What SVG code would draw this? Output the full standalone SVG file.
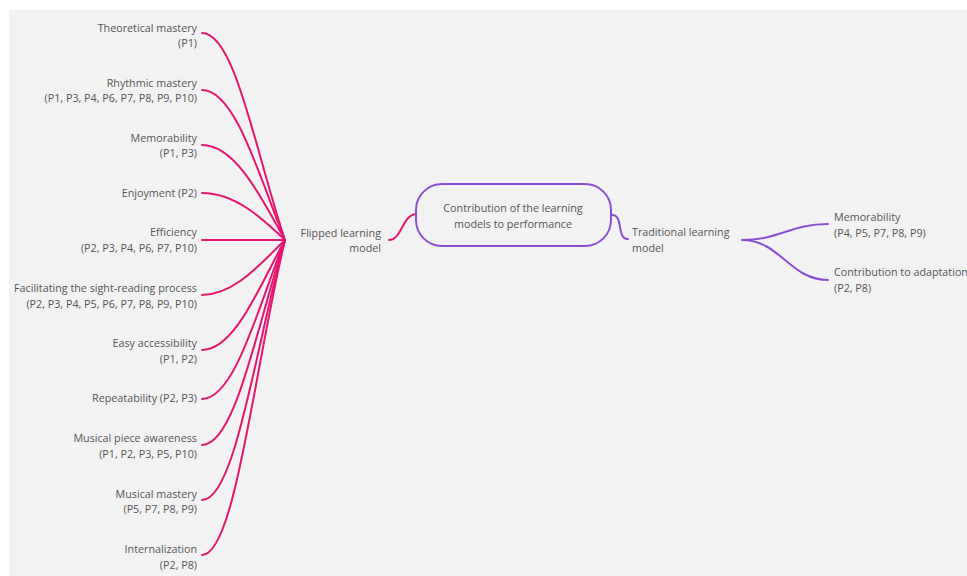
<svg xmlns="http://www.w3.org/2000/svg" width="967" height="576" viewBox="0 0 967 576">
<style>
text{font-family:"Open Sans","Noto Sans","Liberation Sans",sans-serif;font-size:10.75px;fill:#555}
.r{text-anchor:end}
.c{text-anchor:middle}
.m{fill:none;stroke:#e3176f;stroke-width:2;stroke-linecap:round}
.p{fill:none;stroke:#8b4fd1;stroke-width:2;stroke-linecap:round}
</style>
<rect x="0" y="0" width="967" height="576" fill="#ffffff"/>
<rect x="9" y="10" width="958" height="566" fill="#f2f2f2"/>
<g id="connectors">
<path class="m" d="M202 33 C235 33 255 150 285 240"/>
<path class="m" d="M202 90 C235 90 258 173 285 240"/>
<path class="m" d="M202 145 C235 145 260 195 285 240"/>
<path class="m" d="M202 193 C235 193 262 218 285 240"/>
<path class="m" d="M202 240 L285 240"/>
<path class="m" d="M202 295 C235 295 262 262 285 240"/>
<path class="m" d="M202 350 C235 350 260 285 285 240"/>
<path class="m" d="M202 399 C235 399 258 307 285 240"/>
<path class="m" d="M202 445 C235 445 256 330 285 240"/>
<path class="m" d="M202 500 C235 500 255 350 285 240"/>
<path class="m" d="M202 555 C235 555 254 370 285 240"/>
<path class="m" d="M389 240 C402 240 402 215 416 214"/>
<path class="p" d="M612 215 C624 215 616 239 628 239"/>
<path class="p" d="M742 240 C780 240 790 224 828 224"/>
<path class="p" d="M742 240 C780 240 790 280 828 280"/>
</g>
<g id="center">
<rect x="416" y="184" width="195" height="62" rx="26" fill="none" stroke="#8b4fd1" stroke-width="2"/>
<text class="c" x="513" y="212">Contribution of the learning</text>
<text class="c" x="513" y="228">models to performance</text>
</g>
<g id="flipped">
<text class="r" x="381" y="237">Flipped learning</text>
<text class="r" x="381" y="252">model</text>
</g>
<g id="traditional">
<text x="632" y="236">Traditional learning</text>
<text x="632" y="252">model</text>
</g>
<g id="n1"><text class="r" x="197" y="32">Theoretical mastery</text><text class="r" x="197" y="47">(P1)</text></g>
<g id="n2"><text class="r" x="197" y="87">Rhythmic mastery</text><text class="r" x="197" y="102">(P1, P3, P4, P6, P7, P8, P9, P10)</text></g>
<g id="n3"><text class="r" x="197" y="142">Memorability</text><text class="r" x="197" y="157">(P1, P3)</text></g>
<g id="n4"><text class="r" x="197" y="197">Enjoyment (P2)</text></g>
<g id="n5"><text class="r" x="197" y="236">Efficiency</text><text class="r" x="197" y="252">(P2, P3, P4, P6, P7, P10)</text></g>
<g id="n6"><text class="r" x="197" y="292">Facilitating the sight-reading process</text><text class="r" x="197" y="308">(P2, P3, P4, P5, P6, P7, P8, P9, P10)</text></g>
<g id="n7"><text class="r" x="197" y="347">Easy accessibility</text><text class="r" x="197" y="363">(P1, P2)</text></g>
<g id="n8"><text class="r" x="197" y="402">Repeatability (P2, P3)</text></g>
<g id="n9"><text class="r" x="197" y="442">Musical piece awareness</text><text class="r" x="197" y="458">(P1, P2, P3, P5, P10)</text></g>
<g id="n10"><text class="r" x="197" y="498">Musical mastery</text><text class="r" x="197" y="513">(P5, P7, P8, P9)</text></g>
<g id="n11"><text class="r" x="197" y="553">Internalization</text><text class="r" x="197" y="569">(P2, P8)</text></g>
<g id="r1"><text x="834" y="221">Memorability</text><text x="834" y="237">(P4, P5, P7, P8, P9)</text></g>
<g id="r2"><text x="834" y="276">Contribution to adaptation</text><text x="834" y="292">(P2, P8)</text></g>
</svg>
